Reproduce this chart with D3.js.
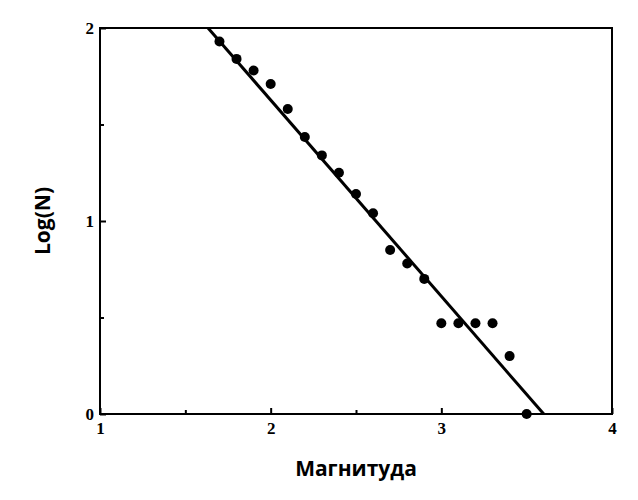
<!DOCTYPE html>
<html><head><meta charset="utf-8">
<script src="https://cdn.jsdelivr.net/npm/d3@7"></script>
<style>body{margin:0;background:#fff}</style></head>
<body><svg id="c" width="638" height="500"></svg>
<script>
const magnitudes=[1.7,1.8,1.9,2.0,2.1,2.2,2.3,2.4,2.5,2.6,2.7,2.8,2.9,3.0,3.1,3.2,3.3,3.4,3.5];
const logN=[1.93,1.84,1.78,1.71,1.58,1.435,1.34,1.25,1.14,1.04,0.85,0.78,0.70,0.47,0.47,0.47,0.47,0.30,0.0];
const fitLine=[[1.633,2],[3.60,0]];
const xTicks=[1,2,3,4], yTicks=[0,1,2];
const svg=d3.select("#c");
const L=100,R=612,T=28,B=414;
const x=d3.scaleLinear().domain([1,4]).range([L,R]);
const y=d3.scaleLinear().domain([0,2]).range([B,T]);
svg.append("rect").attr("x",L).attr("y",T).attr("width",R-L).attr("height",B-T).attr("fill","none").attr("stroke","#000").attr("stroke-width",2);
const gx=svg.append("g").attr("transform",`translate(0,${B})`).call(d3.axisBottom(x).tickValues(xTicks).tickFormat(d3.format("d")).tickSize(-6).tickPadding(8));
const gx2=svg.append("g").attr("transform",`translate(0,${B})`).call(d3.axisBottom(x).tickValues([1.5,2.5,3.5]).tickFormat("").tickSize(-4));
const gy=svg.append("g").attr("transform",`translate(${L},0)`).call(d3.axisLeft(y).tickValues(yTicks).tickFormat(d3.format("d")).tickSize(-6).tickPadding(6));
const gy2=svg.append("g").attr("transform",`translate(${L},0)`).call(d3.axisLeft(y).tickValues([0.5,1.5]).tickFormat("").tickSize(-4));
[gx,gx2,gy,gy2].forEach(g=>{g.select(".domain").remove();g.selectAll("line").attr("stroke-width",2);g.selectAll("text").attr("font-family","Times New Roman, Liberation Serif").attr("font-size",17).attr("font-weight","bold").attr("fill","#000");});
svg.append("g").selectAll("circle").data(magnitudes).join("circle")
 .attr("cx",d=>x(d)).attr("cy",(d,i)=>y(logN[i])).attr("r",5).attr("fill","#000");
svg.append("line").attr("x1",x(fitLine[0][0])).attr("y1",y(fitLine[0][1])).attr("x2",x(fitLine[1][0])).attr("y2",y(fitLine[1][1])).attr("stroke","#000").attr("stroke-width",3);
svg.append("text").attr("x",(L+R)/2).attr("y",476).attr("text-anchor","middle").attr("font-family","Open Sans, sans-serif").attr("font-weight","bold").attr("font-size",21).text("Магнитуда");
svg.append("text").attr("transform",`translate(50,${(T+B)/2}) rotate(-90)`).attr("text-anchor","middle").attr("font-family","Open Sans, sans-serif").attr("font-weight","bold").attr("font-size",21).text("Log(N)");
</script></body></html>
